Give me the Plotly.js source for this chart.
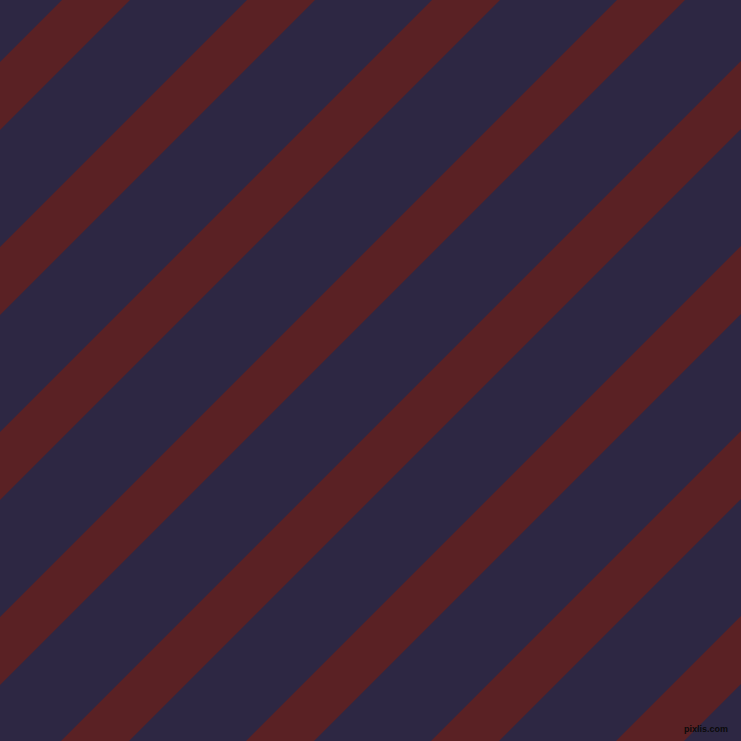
<!DOCTYPE html>
<html>
<head>
<meta charset="utf-8">
<script src="https://cdn.plot.ly/plotly-3.0.1.min.js"></script>
<style>html,body{margin:0;padding:0;background:#2d2743;}#chart{width:741px;height:741px;}</style>
</head>
<body>
<div id="chart"></div>
<script>
// Stripe offsets measured along x + y (pixels of the 741 canvas)
var stripeStarts = [62, 247, 432, 617, 802, 987, 1172, 1357];
var stripeEnds   = [130, 315, 500, 685, 870, 1055, 1240, 1425];
var backgroundColor = '#2d2743';
var stripeColor = '#5a2124';

var traces = stripeStarts.map(function (a, i) {
  var b = stripeEnds[i];
  var pad = 200;
  return {
    type: 'scatter',
    mode: 'lines',
    x: [a + pad, -pad, -pad, b + pad, a + pad],
    y: [-pad, a + pad, b + pad, -pad, -pad],
    fill: 'toself',
    fillcolor: stripeColor,
    line: {width: 0, color: stripeColor},
    hoverinfo: 'skip'
  };
});

var layout = {
  width: 741,
  height: 741,
  margin: {l: 0, r: 0, t: 0, b: 0, pad: 0},
  paper_bgcolor: backgroundColor,
  plot_bgcolor: backgroundColor,
  showlegend: false,
  xaxis: {range: [0, 741], visible: false, fixedrange: true},
  yaxis: {range: [741, 0], visible: false, fixedrange: true},
  annotations: [{
    text: '<b>pixlis.com</b>',
    xref: 'paper', yref: 'paper',
    x: 0.985, y: 0.007,
    xanchor: 'right', yanchor: 'bottom',
    showarrow: false,
    font: {family: 'Liberation Sans Narrow, Liberation Sans', size: 9, color: '#0a0a0a'}
  }]
};

Plotly.newPlot('chart', traces, layout, {staticPlot: true, displayModeBar: false});
</script>
</body>
</html>
